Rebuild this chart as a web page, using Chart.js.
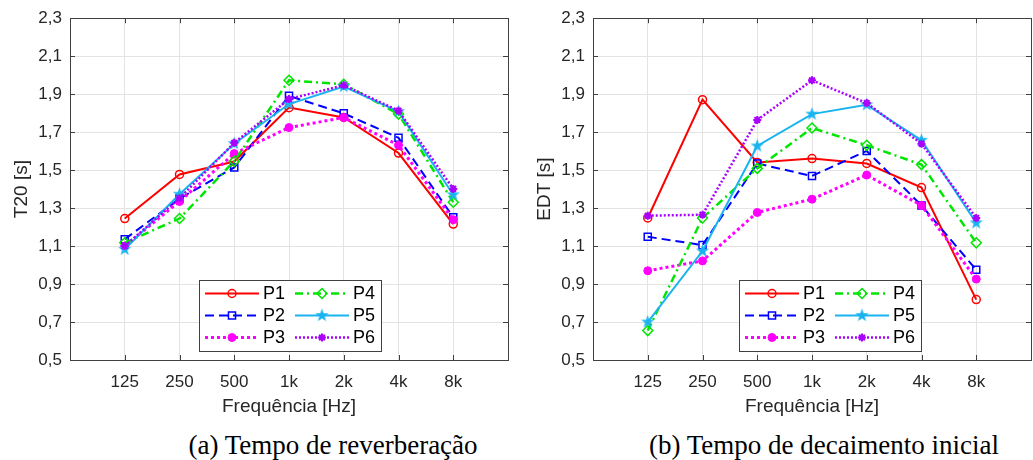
<!DOCTYPE html>
<html>
<head>
<meta charset="utf-8">
<script src="https://cdn.jsdelivr.net/npm/chart.js@4.4.1/dist/chart.umd.min.js"></script>
<style>
  html, body { margin: 0; padding: 0; background: #fff; width: 1033px; height: 460px; overflow: hidden; }
  .panel { position: absolute; top: 0; width: 520px; height: 420px; }
  .caption { position: absolute; top: 430px; line-height: 30px; font-size: 27px; font-family: "Liberation Serif", "Times New Roman", serif; color: #000; white-space: nowrap; transform: translateX(-50%); }
</style>
</head>
<body>
<div class="panel" style="left:0px"><canvas id="t20-graph"></canvas></div>
<div class="panel" style="left:523px"><canvas id="edt-graph"></canvas></div>
<div class="caption" style="left:333px">(a) Tempo de reverberação</div>
<div class="caption" style="left:824px">(b) Tempo de decaimento inicial</div>
<script>
const freqLabels = ['125', '250', '500', '1k', '2k', '4k', '8k'];
const pointNames = ['P1', 'P2', 'P3', 'P4', 'P5', 'P6'];

// T20 [s]
const t20P1 = [1.245, 1.477, 1.545, 1.829, 1.777, 1.590, 1.216];
const t20P2 = [1.136, 1.350, 1.514, 1.891, 1.799, 1.670, 1.251];
const t20P3 = [1.100, 1.335, 1.587, 1.724, 1.777, 1.631, 1.239];
const t20P4 = [1.117, 1.245, 1.547, 1.973, 1.952, 1.795, 1.331];
const t20P5 = [1.083, 1.373, 1.639, 1.848, 1.940, 1.808, 1.370];
const t20P6 = [1.100, 1.352, 1.644, 1.874, 1.947, 1.813, 1.401];

// EDT [s]
const edtP1 = [1.248, 1.871, 1.540, 1.561, 1.535, 1.408, 0.818];
const edtP2 = [1.149, 1.105, 1.535, 1.469, 1.601, 1.314, 0.975];
const edtP3 = [0.970, 1.022, 1.277, 1.347, 1.474, 1.314, 0.926];
const edtP4 = [0.655, 1.248, 1.509, 1.722, 1.631, 1.529, 1.117];
const edtP5 = [0.700, 1.074, 1.627, 1.795, 1.844, 1.657, 1.222];
const edtP6 = [1.260, 1.265, 1.764, 1.973, 1.853, 1.639, 1.248];

Chart.defaults.font.family = '"Liberation Sans", Arial, sans-serif';
Chart.defaults.color = '#262626';

// 5 point star (matlab 'p') for P5, chart.js has no filled one
let makeStar = (color) => {
    let c = document.createElement('canvas');
    c.width = 15; c.height = 15;
    let g = c.getContext('2d');
    g.beginPath();
    for (let k = 0; k < 10; k++) {
        let r = k % 2 === 0 ? 7 : 2.8;
        let a = -Math.PI / 2 + k * Math.PI / 5;
        g.lineTo(7.5 + r * Math.cos(a), 7.5 + r * Math.sin(a));
    }
    g.closePath();
    g.fillStyle = color;
    g.fill();
    return c;
}

const none = 'rgba(0,0,0,0)';
const styles = [
    { color: '#ff0000', dash: [], width: 2, marker: 'circle', radius: 4, fill: none, mw: 1.5 },
    { color: '#0000ff', dash: [9, 5], width: 2, marker: 'rect', radius: 5, fill: none, mw: 1.5 },
    { color: '#ff00ff', dash: [3, 3], width: 3, marker: 'circle', radius: 4, fill: '#ff00ff', mw: 1 },
    { color: '#00e600', dash: [8, 4, 2, 4], width: 2.5, marker: 'rectRot', radius: 5, fill: none, mw: 1.5 },
    { color: '#19b4f0', dash: [], width: 2, marker: makeStar('#19b4f0'), radius: 7, fill: '#19b4f0', mw: 1 },
    { color: '#aa00ff', dash: [2, 2], width: 2.5, marker: 'star', radius: 4, fill: '#aa00ff', mw: 2 },
];

let makeDatasets = (seriesList) => seriesList.map((values, i) => ({
    label: pointNames[i],
    data: values.map((v, k) => ({ x: k, y: v })),
    borderColor: styles[i].color,
    borderWidth: styles[i].width,
    borderDash: styles[i].dash,
    pointStyle: styles[i].marker,
    pointRadius: styles[i].radius,
    pointBackgroundColor: styles[i].fill,
    pointBorderColor: styles[i].color,
    pointBorderWidth: styles[i].mw,
    tension: 0,
    fill: false,
    order: 6 - i, // P6 ends up on top, like matlab
}));

// box round the axes plus inward ticks
const frame = {
    id: 'frame',
    afterDraw(chart) {
        let ctx = chart.ctx, a = chart.chartArea;
        ctx.save();
        ctx.strokeStyle = '#404040';
        ctx.lineWidth = 1;
        ctx.setLineDash([]);
        ctx.beginPath();
        chart.scales.x.ticks.forEach(t => {
            let px = Math.round(chart.scales.x.getPixelForValue(t.value)) + 0.5;
            ctx.moveTo(px, a.bottom); ctx.lineTo(px, a.bottom - 5);
            ctx.moveTo(px, a.top); ctx.lineTo(px, a.top + 5);
        });
        chart.scales.y.ticks.forEach(t => {
            let py = Math.round(chart.scales.y.getPixelForValue(t.value)) + 0.5;
            ctx.moveTo(a.left, py); ctx.lineTo(a.left + 5, py);
            ctx.moveTo(a.right, py); ctx.lineTo(a.right - 5, py);
        });
        ctx.stroke();
        ctx.strokeRect(Math.round(a.left) + 0.5, Math.round(a.top) + 0.5, Math.round(a.right - a.left), Math.round(a.bottom - a.top));
        ctx.restore();
    }
};

// two column legend with a border, like the matlab one
const boxLegend = {
    id: 'boxLegend',
    afterDraw(chart, args, opts) {
        let ctx = chart.ctx, a = chart.chartArea;
        let bx = Math.round(a.left + opts.offsetX), by = Math.round(a.top + 262), bw = 182, bh = 71;
        ctx.save();
        ctx.fillStyle = '#fff';
        ctx.fillRect(bx, by, bw, bh);
        ctx.strokeStyle = '#404040';
        ctx.lineWidth = 1;
        ctx.strokeRect(bx + 0.5, by + 0.5, bw, bh);
        chart.data.datasets.forEach((ds, i) => {
            let col = Math.floor(i / 3), row = i % 3;
            let x0 = bx + 6 + col * 90, x1 = x0 + 54, cy = by + 13.5 + row * 22;
            ctx.strokeStyle = ds.borderColor;
            ctx.lineWidth = ds.borderWidth;
            ctx.setLineDash(ds.borderDash);
            ctx.beginPath();
            ctx.moveTo(x0, cy); ctx.lineTo(x1, cy);
            ctx.stroke();
            ctx.setLineDash([]);
            ctx.fillStyle = ds.pointBackgroundColor;
            ctx.strokeStyle = ds.pointBorderColor;
            ctx.lineWidth = ds.pointBorderWidth;
            Chart.helpers.drawPoint(ctx, { pointStyle: ds.pointStyle, radius: ds.pointRadius, rotation: 0, borderWidth: ds.pointBorderWidth }, (x0 + x1) / 2, cy);
            ctx.fillStyle = '#000';
            ctx.font = '18px "Liberation Sans", Arial, sans-serif';
            ctx.textBaseline = 'middle';
            ctx.fillText(ds.label, bx + 64 + col * 90, cy + 1);
        });
        ctx.restore();
    }
};

let makeConfig = (seriesList, yTitle, legendX) => ({
    type: 'line',
    data: { datasets: makeDatasets(seriesList) },
    options: {
        responsive: true,
        maintainAspectRatio: false,
        animation: false,
        layout: { padding: { top: 15, right: 3, bottom: 0, left: 0 } },
        plugins: {
            legend: { display: false },
            tooltip: { enabled: false },
            boxLegend: { offsetX: legendX },
        },
        scales: {
            x: {
                type: 'linear',
                min: -1,
                max: 7,
                afterFit: (scale) => { scale.height = 60; },
                ticks: {
                    stepSize: 1,
                    padding: 12,
                    maxRotation: 0,
                    font: { size: 17 },
                    color: '#262626',
                    callback: (v) => freqLabels[v] ?? '',
                },
                grid: { color: '#e3e3e3', drawTicks: false },
                border: { display: false },
                title: { display: true, text: 'Frequência [Hz]', font: { size: 19 }, color: '#262626', padding: { top: 0, bottom: 2 } },
            },
            y: {
                min: 0.5,
                max: 2.3,
                afterFit: (scale) => { scale.width = 70; },
                ticks: {
                    stepSize: 0.2,
                    padding: 8,
                    font: { size: 17 },
                    color: '#262626',
                    callback: (v) => v.toFixed(1).replace('.', ','),
                },
                grid: { color: '#e3e3e3', drawTicks: false },
                border: { display: false },
                title: { display: true, text: yTitle, font: { size: 19 }, color: '#262626', padding: { top: 10, bottom: 0 } },
            },
        },
    },
    plugins: [frame, boxLegend],
});

new Chart(document.getElementById('t20-graph'),
    makeConfig([t20P1, t20P2, t20P3, t20P4, t20P5, t20P6], 'T20 [s]', 129));
new Chart(document.getElementById('edt-graph'),
    makeConfig([edtP1, edtP2, edtP3, edtP4, edtP5, edtP6], 'EDT [s]', 146));
</script>
</body>
</html>
